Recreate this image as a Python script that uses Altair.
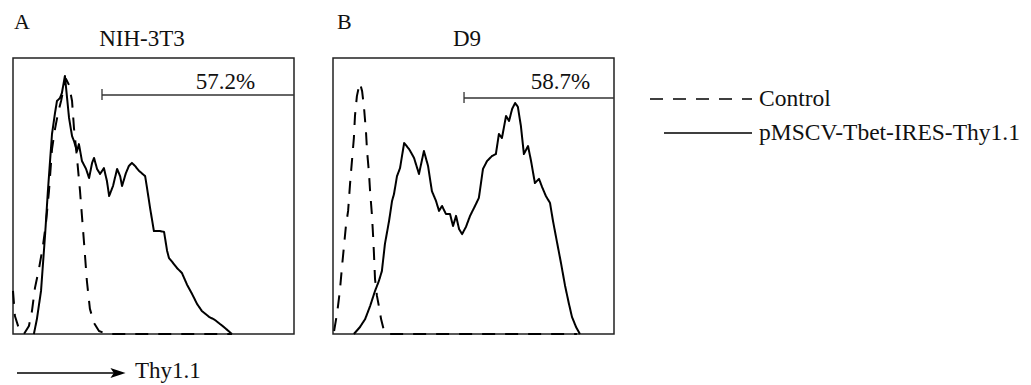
import altair as alt
import pandas as pd

FONT = "Liberation Serif"
series_names = ["Control", "pMSCV-Tbet-IRES-Thy1.1"]
panel_letters = ["A", "B"]
cell_lines = ["NIH-3T3", "D9"]
gate_pct = ["57.2%", "58.7%"]
gate_start = [324, 477]
axis_label = "Thy1.1"

# Panel A (NIH-3T3)
a_ctrl_ch = [0, 7, 22, 40, 58, 69, 80, 95, 109, 120, 131, 142, 153, 164, 175, 186, 193, 204, 215, 222,
             233, 244, 251, 259, 269, 280, 295, 313, 342, 797]
a_ctrl_cnt = [15.6, 6.5, 1.8, 0, 2.9, 8.3, 16.7, 23.9, 31.9, 40.2, 51.8, 67.0, 74.3, 80.1, 84.4, 89.9, 92.4,
              90.2, 84.4, 74.6, 63.8, 51.8, 42.8, 32.6, 19.2, 9.1, 4.0, 1.1, 0, 0]
a_tbet_ch = [76, 87, 102, 117, 127, 142, 153, 160, 171, 178, 189, 204, 215, 222, 233, 240, 251, 266, 277, 288,
             295, 306, 317, 331, 342, 350, 364, 379, 390, 397, 411, 422, 433, 444, 459, 481, 488, 499, 513, 535,
             550, 561, 568, 583, 597, 615, 634, 652, 670, 688, 714, 735, 768, 797]
a_tbet_cnt = [0, 5.4, 15.6, 36.2, 51.8, 72.5, 80.1, 84.4, 85.5, 87.3, 93.5, 78.3, 71.7, 69.9, 66.3, 68.8, 62.7,
              59.8, 56.5, 62.0, 63.8, 59.8, 58.0, 60.1, 55.4, 50.0, 53.6, 59.8, 57.2, 53.6, 58.3, 60.9, 62.0,
              60.9, 59.1, 57.2, 52.9, 45.7, 37.3, 37.3, 37.0, 30.1, 27.5, 25.7, 23.9, 22.1, 17.8, 14.5, 10.9,
              8.3, 6.2, 5.1, 2.5, 0]

# Panel B (D9)
b_ctrl_ch = [4, 15, 25, 33, 40, 47, 55, 62, 69, 76, 80, 87, 95, 98, 106, 113, 120, 124, 131, 135, 142, 146,
             149, 153, 160, 167, 175, 186, 200, 888]
b_ctrl_cnt = [1.1, 7.6, 15.6, 24.6, 31.9, 39.1, 44.6, 54.3, 62.7, 71.0, 79.0, 86.2, 89.9, 90.9, 88.0, 81.9,
              73.5, 66.3, 58.3, 51.8, 42.8, 35.5, 29.3, 19.9, 13.8, 10.1, 5.4, 1.1, 0, 0]
b_tbet_ch = [76, 98, 117, 135, 153, 167, 178, 189, 204, 215, 222, 233, 244, 259, 277, 295, 313, 331, 346, 360,
             375, 386, 397, 411, 426, 437, 448, 459, 470, 484, 499, 517, 531, 546, 561, 579, 593, 604, 615, 630,
             641, 652, 663, 673, 684, 695, 710, 721, 735, 750, 761, 775, 790, 801, 816, 830, 845, 859, 870, 885,
             899]
b_tbet_cnt = [0, 2.5, 5.4, 10.1, 15.6, 19.2, 22.8, 32.6, 40.9, 48.2, 50.7, 57.2, 60.1, 69.2, 67.0, 63.8, 58.0,
              66.3, 60.9, 51.8, 48.2, 44.6, 46.4, 43.5, 43.5, 39.1, 42.8, 38.0, 36.2, 38.8, 42.8, 46.4, 49.3,
              59.8, 62.7, 64.5, 65.2, 72.5, 71.0, 79.0, 77.2, 81.5, 83.7, 82.3, 75.4, 65.2, 68.1, 62.7, 54.7,
              56.2, 53.3, 50.0, 47.5, 40.9, 33.0, 25.7, 17.4, 10.9, 6.2, 2.5, 0]

W, H = 281, 276
xs = alt.Scale(domain=[0, 1023], nice=False, zero=False)
ys = alt.Scale(domain=[0, 100], nice=False, zero=False)
dash_scale = alt.Scale(domain=series_names, range=[[13, 10], [1, 0]])


def curves(ctrl_ch, ctrl_cnt, tbet_ch, tbet_cnt):
    rows = []
    for i, (c, n) in enumerate(zip(ctrl_ch, ctrl_cnt)):
        rows.append({"channel": c, "count": n, "series": series_names[0], "idx": i})
    for i, (c, n) in enumerate(zip(tbet_ch, tbet_cnt)):
        rows.append({"channel": c, "count": n, "series": series_names[1], "idx": i})
    return pd.DataFrame(rows)


def panel(i, df, letter_x, title_x, pct_x, gate_y, tick_y1, tick_y2, extra=None):
    lines = alt.Chart(df).mark_line(color="black", strokeWidth=2, strokeJoin="round").encode(
        x=alt.X("channel:Q", scale=xs, axis=None),
        y=alt.Y("count:Q", scale=ys, axis=None),
        strokeDash=alt.StrokeDash("series:N", scale=dash_scale, legend=None),
        order="idx:Q",
    )
    gdf = pd.DataFrame({"start": [gate_start[i]], "end": [1023], "pct": [gate_pct[i]],
                        "letter": [panel_letters[i]], "line": [cell_lines[i]]})
    gate = alt.Chart(gdf).mark_rule(color="#333", strokeWidth=1.3).encode(
        x=alt.X("start:Q", scale=xs, axis=None), x2="end:Q", y=alt.value(gate_y))
    tick = alt.Chart(gdf).mark_rule(color="#333", strokeWidth=1.3).encode(
        x=alt.X("start:Q", scale=xs, axis=None), y=alt.value(tick_y1), y2=alt.value(tick_y2))
    pct = alt.Chart(gdf).mark_text(font=FONT, fontSize=23, color="#111", align="center",
                                   baseline="alphabetic").encode(
        text="pct:N", x=alt.value(pct_x), y=alt.value(31))
    letter = alt.Chart(gdf).mark_text(font=FONT, fontSize=22, color="#111", align="left",
                                      baseline="alphabetic").encode(
        text="letter:N", x=alt.value(letter_x), y=alt.value(-29))
    title = alt.Chart(gdf).mark_text(font=FONT, fontSize=23, color="#111", align="center",
                                     baseline="alphabetic").encode(
        text="line:N", x=alt.value(title_x), y=alt.value(-12))
    layers = [lines, gate, tick, pct, letter, title]
    if extra:
        layers += extra
    return alt.layer(*layers).properties(width=W, height=H)


# x-axis arrow under panel A
adf = pd.DataFrame({"label": [axis_label]})
arrow_line = alt.Chart(adf).mark_rule(color="black", strokeWidth=1.4).encode(
    x=alt.value(4), x2=alt.value(101), y=alt.value(315))
arrow_head = alt.Chart(adf).mark_point(
    shape="M-1,-0.65L1,0L-1,0.65L-0.55,0Z", filled=True, color="black", opacity=1, size=230
).encode(x=alt.value(105), y=alt.value(315))
arrow_text = alt.Chart(adf).mark_text(font=FONT, fontSize=23, color="#111", align="left",
                                      baseline="alphabetic").encode(
    text="label:N", x=alt.value(122), y=alt.value(320))

# legend, drawn to the right of panel B
legend_x1 = [317, 331]
legend_layers = []
for k, name in enumerate(series_names):
    ldf = pd.DataFrame({"series": [name]})
    ly = 41 + 34 * k
    legend_layers.append(
        alt.Chart(ldf).mark_rule(color="black", strokeWidth=1.3).encode(
            x=alt.value(legend_x1[k]), x2=alt.value(419), y=alt.value(ly),
            strokeDash=alt.StrokeDash("series:N", scale=dash_scale, legend=None)))
    legend_layers.append(
        alt.Chart(ldf).mark_text(font=FONT, fontSize=23.5, color="#111", align="left",
                                 baseline="middle").encode(
            text="series:N", x=alt.value(426), y=alt.value(ly)))

pA = panel(0, curves(a_ctrl_ch, a_ctrl_cnt, a_tbet_ch, a_tbet_cnt), 1, 129, 212.5, 37, 31, 42,
           extra=[arrow_line, arrow_head, arrow_text])
pB = panel(1, curves(b_ctrl_ch, b_ctrl_cnt, b_tbet_ch, b_tbet_cnt), 4, 134, 227.5, 40, 34, 45,
           extra=legend_layers)

chart = alt.hconcat(pA, pB, spacing=39, bounds="flush").properties(
    padding={"left": 3, "top": 2, "right": 0, "bottom": 0},
    background="white",
).configure_view(stroke="#222", strokeWidth=1.5)

chart.save("out.html", embed_options={"renderer": "svg", "actions": False})
